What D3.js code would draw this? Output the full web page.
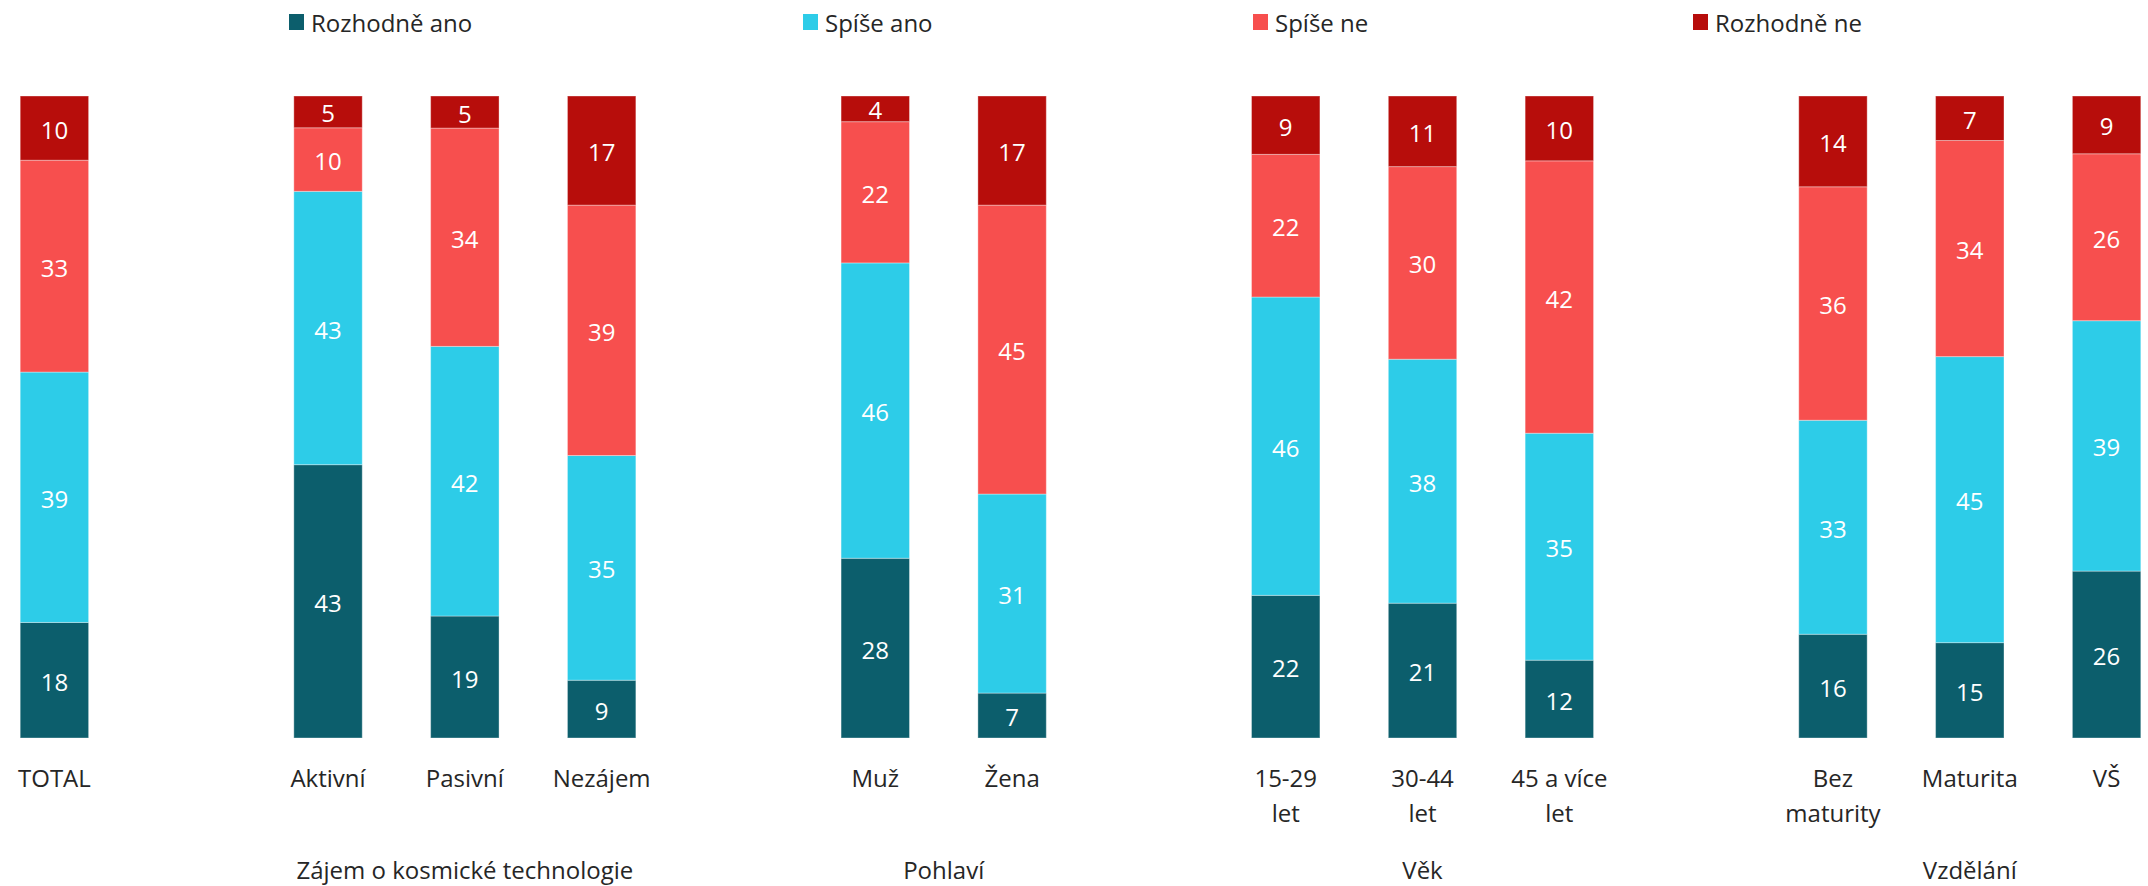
<!DOCTYPE html>
<html>
<head>
<meta charset="utf-8">
<script src="https://cdn.jsdelivr.net/npm/d3@7"></script>
<style>
  body { margin: 0; background: #fff; }
  svg { display: block; font-family: "Open Sans", "Noto Sans", sans-serif; }
</style>
</head>
<body>
<svg id="chart" width="2148" height="886"></svg>
<script>
// series, bottom to top
var seriesNames = ["Rozhodně ano", "Spíše ano", "Spíše ne", "Rozhodně ne"]
var seriesColors = ["#0C5E6C", "#2DCCE8", "#F74F4E", "#B70D0B"]

// categories (\n = line break in the axis label)
var categories = ["TOTAL", "Aktivní", "Pasivní", "Nezájem", "Muž", "Žena",
	"15-29\nlet", "30-44\nlet", "45 a více\nlet", "Bez\nmaturity", "Maturita", "VŠ"]

var rozhodneAno = [18, 43, 19, 9, 28, 7, 22, 21, 12, 16, 15, 26]
var spiseAno    = [39, 43, 42, 35, 46, 31, 46, 38, 35, 33, 45, 39]
var spiseNe     = [33, 10, 34, 39, 22, 45, 22, 30, 42, 36, 34, 26]
var rozhodneNe  = [10, 5, 5, 17, 4, 17, 9, 11, 10, 14, 7, 9]

// groups of categories, with the label under each group
var groupNames = ["", "Zájem o kosmické technologie", "Pohlaví", "Věk", "Vzdělání"]
var groupSizes = [1, 3, 2, 3, 3]

var values = [rozhodneAno, spiseAno, spiseNe, rozhodneNe]

var svg = d3.select("#chart")

// build slot domain: categories with one empty slot between groups
var slots = []
var groupSlots = []
var ci = 0
groupSizes.forEach(function(n, g) {
	if (g > 0) slots.push("gap" + g)
	var members = []
	for (var k = 0; k < n; k++) {
		slots.push(categories[ci])
		members.push(categories[ci])
		ci++
	}
	groupSlots.push(members)
})

var x = d3.scaleBand()
	.domain(slots)
	.range([-14, 2175])
	.paddingInner(0.5)
	.paddingOuter(0.25)

var y = d3.scaleLinear()
	.domain([0, 1])
	.range([738, 96])

// 100% stacked rows
var rows = categories.map(function(c, i) {
	var row = { cat: c }
	var total = d3.sum(values, function(s) { return s[i] })
	seriesNames.forEach(function(name, s) {
		row[name] = values[s][i] / total
		row[name + "_raw"] = values[s][i]
	})
	return row
})

var stacked = d3.stack().keys(seriesNames)(rows)

var layer = svg.append("g")
	.selectAll("g")
	.data(stacked)
	.enter().append("g")
		.attr("fill", function(d, i) { return seriesColors[i] })

layer.selectAll("rect")
	.data(function(d) { return d })
	.enter().append("rect")
		.attr("x", function(d) { return x(d.data.cat) })
		.attr("width", x.bandwidth())
		.attr("y", function(d) { return y(d[1]) })
		.attr("height", function(d) { return y(d[0]) - y(d[1]) })
		.attr("stroke", "rgba(255,255,255,0.35)")
		.attr("stroke-width", 1)

// data labels
stacked.forEach(function(series) {
	svg.append("g")
		.selectAll("text")
		.data(series)
		.enter().append("text")
			.attr("x", function(d) { return x(d.data.cat) + x.bandwidth() / 2 })
			.attr("y", function(d) { return (y(d[0]) + y(d[1])) / 2 + 1 })
			.attr("text-anchor", "middle")
			.attr("dominant-baseline", "central")
			.attr("fill", "#fff")
			.attr("font-size", 24)
			.text(function(d) { return d.data[series.key + "_raw"] })
})

// category axis labels
var catLabels = svg.append("g")
	.selectAll("text")
	.data(categories)
	.enter().append("text")
		.attr("text-anchor", "middle")
		.attr("fill", "#262626")
		.attr("font-size", 24)
		.attr("x", function(d) { return x(d) + x.bandwidth() / 2 })
		.attr("y", 787)

catLabels.selectAll("tspan")
	.data(function(d) { return d.split("\n") })
	.enter().append("tspan")
		.attr("x", function() { return d3.select(this.parentNode).attr("x") })
		.attr("dy", function(d, i) { return i ? 35 : 0 })
		.text(function(d) { return d })

// group labels
svg.append("g")
	.selectAll("text")
	.data(groupNames)
	.enter().append("text")
		.attr("text-anchor", "middle")
		.attr("fill", "#262626")
		.attr("font-size", 24)
		.attr("x", function(d, g) {
			var m = groupSlots[g]
			return (x(m[0]) + x(m[m.length - 1]) + x.bandwidth()) / 2
		})
		.attr("y", 879)
		.text(function(d) { return d })

// legend
var legendX = [289, 803, 1253, 1693]
var legend = svg.append("g")
	.selectAll("g")
	.data(seriesNames)
	.enter().append("g")
		.attr("transform", function(d, i) { return "translate(" + legendX[i] + ",22)" })

legend.append("rect")
	.attr("x", 0)
	.attr("y", -8)
	.attr("width", 15)
	.attr("height", 16)
	.attr("fill", function(d, i) { return seriesColors[i] })

legend.append("text")
	.attr("x", 22)
	.attr("y", 0)
	.attr("dominant-baseline", "central")
	.attr("fill", "#262626")
	.attr("font-size", 24)
	.text(function(d) { return d })
</script>
</body>
</html>
